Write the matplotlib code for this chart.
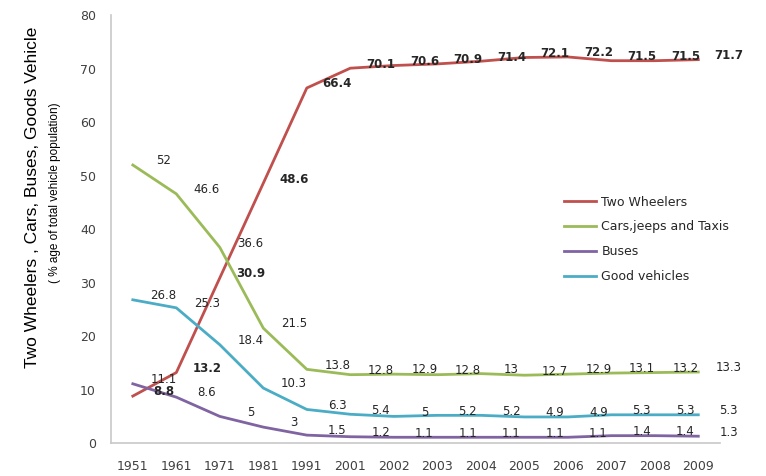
import matplotlib
matplotlib.use('Agg')
import matplotlib.pyplot as plt

# Data (share of total vehicle population, %)
years = ['1951', '1961', '1971', '1981', '1991', '2001', '2002', '2003',
         '2004', '2005', '2006', '2007', '2008', '2009']
two_wheelers = [8.8, 13.2, 30.9, 48.6, 66.4, 70.1, 70.6, 70.9, 71.4, 72.1, 72.2, 71.5, 71.5, 71.7]
cars = [52, 46.6, 36.6, 21.5, 13.8, 12.8, 12.9, 12.8, 13, 12.7, 12.9, 13.1, 13.2, 13.3]
buses = [11.1, 8.6, 5, 3, 1.5, 1.2, 1.1, 1.1, 1.1, 1.1, 1.1, 1.4, 1.4, 1.3]
goods = [26.8, 25.3, 18.4, 10.3, 6.3, 5.4, 5, 5.2, 5.2, 4.9, 4.9, 5.3, 5.3, 5.3]

series = [
    ('Two Wheelers', two_wheelers, '#C0504D', 'bold'),
    ('Cars,jeeps and Taxis', cars, '#9BBB59', 'normal'),
    ('Buses', buses, '#8064A2', 'normal'),
    ('Good vehicles', goods, '#4BACC6', 'normal'),
]

fig = plt.figure(figsize=(7.66, 4.76), dpi=100)
ax = fig.add_axes([0.145, 0.069, 0.795, 0.899])

x = list(range(len(years)))
for name, vals, color, weight in series:
    ax.plot(x, vals, color=color, lw=2.0, label=name)
    for i, v in enumerate(vals):
        ax.annotate(f'{v:g}', (i, v), xytext=(22, 3), textcoords='offset points',
                    ha='center', va='center', fontsize=8.5, fontweight=weight,
                    color='#262626')

ax.set_xlim(-0.5, len(years) - 0.5)
ax.set_ylim(0, 80)
ax.set_yticks(range(0, 81, 10))
ax.set_xticks(x)
ax.set_xticklabels(years)
ax.tick_params(length=0, labelsize=9, colors='#404040', pad=12)
ax.tick_params(axis='y', pad=11)
for s in ['top', 'right']:
    ax.spines[s].set_visible(False)
for s in ['left', 'bottom']:
    ax.spines[s].set_color('#C8C8C8')
    ax.spines[s].set_linewidth(1.2)

ax.legend(loc='upper left', bbox_to_anchor=(0.725, 0.605), frameon=False,
          fontsize=9, handlelength=2.6, handletextpad=0.4, labelspacing=0.95,
          labelcolor='#262626')

fig.text(0.042, 0.585, 'Two Wheelers , Cars, Buses, Goods Vehicle', rotation=90,
         ha='center', va='center', fontsize=12.5,
         family=['Liberation Sans', 'DejaVu Sans'])
fig.text(0.072, 0.595, '( % age of total vehicle population)', rotation=90,
         ha='center', va='center', fontsize=8.5,
         family=['Liberation Sans', 'DejaVu Sans'])

fig.savefig('out.png', dpi=100)
